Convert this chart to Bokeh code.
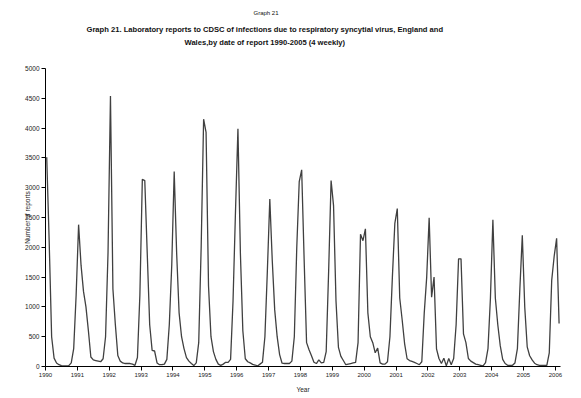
from bokeh.plotting import figure
from bokeh.models import FixedTicker, Range1d, Title
from bokeh.embed import file_html
from bokeh.resources import INLINE

# 4-weekly laboratory reports, 13 periods per year
y1990 = [3510, 2100, 500, 140, 60, 30, 15, 10, 10, 15, 60, 300, 1200]
y1991 = [2380, 1700, 1260, 1000, 600, 160, 110, 100, 90, 80, 130, 500, 1900]
y1992 = [4540, 1300, 700, 185, 90, 60, 50, 50, 50, 40, 20, 150, 1200]
y1993 = [3140, 3120, 1900, 700, 270, 260, 60, 30, 30, 40, 120, 700, 1700]
y1994 = [3270, 1900, 900, 500, 300, 150, 90, 50, 15, 60, 400, 2000, 4150]
y1995 = [3930, 1350, 500, 250, 120, 40, 20, 40, 70, 70, 120, 1100, 2600]
y1996 = [3990, 1900, 600, 130, 80, 60, 35, 25, 10, 40, 70, 500, 1600]
y1997 = [2810, 1780, 950, 500, 200, 55, 50, 50, 50, 90, 500, 2000, 3100]
y1998 = [3300, 1800, 400, 280, 180, 72, 50, 110, 60, 70, 250, 1600, 3120]
y1999 = [2700, 1100, 320, 170, 100, 30, 40, 50, 60, 70, 400, 2220, 2110]
y2000 = [2310, 900, 500, 400, 230, 310, 60, 40, 40, 80, 500, 1500, 2400]
y2001 = [2650, 1150, 780, 380, 130, 100, 85, 70, 50, 30, 80, 900, 1500]
y2002 = [2495, 1163, 1500, 296, 134, 50, 140, 10, 134, 30, 134, 700, 1806]
y2003 = [1806, 548, 400, 134, 90, 65, 40, 30, 20, 10, 65, 300, 1150]
y2004 = [2460, 1150, 700, 350, 120, 50, 20, 20, 20, 60, 300, 1300, 2200]
y2005 = [995, 330, 180, 110, 55, 30, 20, 20, 20, 20, 230, 1450, 1850]
y2006 = [2150, 720]

series = (y1990 + y1991 + y1992 + y1993 + y1994 + y1995 + y1996 + y1997 +
          y1998 + y1999 + y2000 + y2001 + y2002 + y2003 + y2004 + y2005 + y2006)
periods_per_year = 13
xs = [1990 + (i + 0.5) / periods_per_year for i in range(len(series))]

year_ticks = list(range(1990, 2007))
y_ticks = list(range(0, 5001, 500))

font = "Liberation Sans"

p = figure(width=573, height=396, output_backend="svg", toolbar_location=None,
           x_range=Range1d(1990, 2006.16), y_range=Range1d(0, 5000),
           min_border_left=45, min_border_right=13, min_border_top=68,
           min_border_bottom=30)
p.outline_line_color = None
p.xgrid.grid_line_color = None
p.ygrid.grid_line_color = None
p.background_fill_color = "white"
p.border_fill_color = "white"

p.line(xs, series, line_color="#404040", line_width=1.3)

for ax in (p.xaxis[0], p.yaxis[0]):
    ax.axis_line_color = "black"
    ax.major_tick_line_color = "black"
    ax.minor_tick_line_color = None
    ax.major_tick_in = 0
    ax.major_tick_out = 4
    ax.major_label_text_font = font
    ax.major_label_text_color = "#222222"
    ax.major_label_standoff = 2
    ax.axis_label_text_font = font
    ax.axis_label_text_font_style = "normal"
    ax.axis_label_text_font_size = "6.5px"
    ax.axis_label_text_color = "#222222"

p.xaxis[0].ticker = FixedTicker(ticks=year_ticks)
p.yaxis[0].ticker = FixedTicker(ticks=y_ticks)
p.xaxis[0].major_label_text_font_size = "6px"
p.yaxis[0].major_label_text_font_size = "6.5px"
p.xaxis[0].axis_label = "Year"
p.xaxis[0].axis_label_standoff = 6
p.yaxis[0].axis_label = "Number of reports"
p.yaxis[0].axis_label_standoff = -9

# spacer between frame and the title block
p.add_layout(Title(text=" ", text_font_size="1px", standoff=19), "above")

title_line2 = "Wales,by date of report 1990-2005 (4 weekly)"
title_line1 = "Graph 21. Laboratory reports to CDSC of infections due to respiratory syncytial virus, England and"
for txt, size, style, sb, off in [(title_line2, "7.6px", "bold", 0, 139),
                                  (title_line1, "7.6px", "bold", 3, 41),
                                  ("Graph 21", "6px", "normal", 12, 208)]:
    t = Title(text=txt, align="left", offset=off, text_font=font,
              text_font_size=size, text_font_style=style, text_color="#111111",
              standoff=sb)
    p.add_layout(t, "above")

open("out.html", "w").write(file_html(p, INLINE))
